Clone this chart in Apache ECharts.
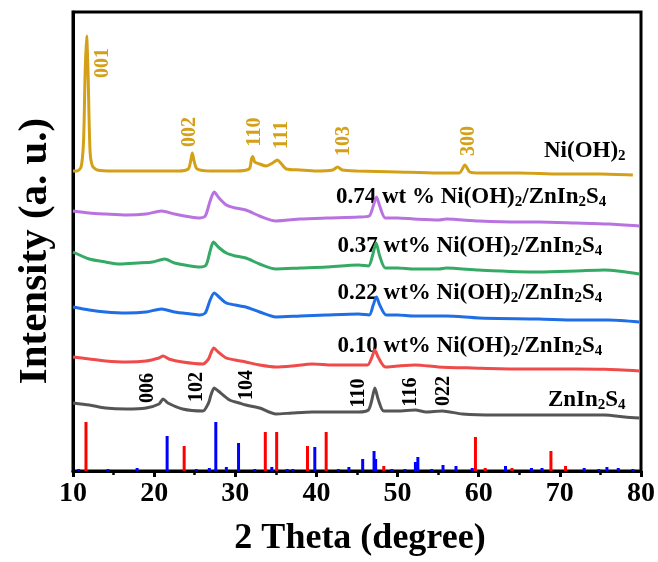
<!DOCTYPE html>
<html>
<head>
<meta charset="utf-8">
<script src="https://cdn.jsdelivr.net/npm/echarts@6/dist/echarts.min.js"></script>
<style>html,body{margin:0;padding:0;background:#fff}#c{width:658px;height:562px}</style>
</head>
<body>
<div id="c"></div>
<script>
// ---- data (2θ in degree, intensity in a.u. with stacking offsets) ----
var xTicks = [10, 20, 30, 40, 50, 60, 70, 80];

var niOH2 = [[10,300],[10.5,300],[11.0,304],[11.3,330],[11.5,400],[11.68,435],[11.85,400],[12.1,320],[12.4,305],[13,301],[15,300],[20,300],[23,300],[24.2,302],[24.5,310],[24.7,318],[24.95,309],[25.3,302],[27,300],[30,300],[31.7,302],[32.0,312],[32.15,314.5],[32.4,309],[33.0,307],[33.8,305],[34.6,308],[35.2,311],[35.6,308],[36.3,302],[38,301],[40,300],[42.0,301],[42.6,304],[43.2,301],[45,300],[50,299],[55,298],[57.6,298],[58.3,306],[58.9,299],[60,298],[65,298],[70,297],[75,297],[79,296]];

var wt074 = [[10,260],[12,258],[14,257],[16.6,256],[19,257],[20.9,260],[22.5,257],[24.5,254],[25.6,253],[26.3,255],[26.9,270],[27.4,279],[28.0,273],[28.9,266],[30,263],[31.3,261],[33,255],[35.0,250],[38,252],[41.2,253],[45.2,254],[46.5,255],[47.0,265],[47.4,274],[47.8,265],[48.5,253],[50,253],[52,252],[55.1,251],[56,252],[60,250],[65,249],[67.4,249],[72,248],[76,247],[79.8,245]];

var wt037 = [[10,219],[12,212],[14,209],[15.8,207],[18,208],[19.8,209],[21.3,212],[22.5,208],[24.5,205],[25.6,204],[26.4,206],[26.9,220],[27.3,229],[27.9,224],[28.9,218],[30,215],[31.3,213],[33,207],[35.0,202],[38,203],[41.2,204],[45.2,206],[46.4,205],[46.9,215],[47.35,228],[47.8,215],[48.5,203],[50,203],[52,202],[55.1,202],[56,203],[60,201],[67.4,199],[72,200],[75.5,201],[79.8,197]];

var wt022 = [[10,164],[12,161],[14,159],[16.6,158],[19,159],[20.9,162],[22.5,159],[24.5,157],[25.6,156],[26.3,158],[26.9,171],[27.4,178],[28.0,174],[28.9,168],[30,166],[31.3,164],[33,159],[35.0,154],[38,155],[41.2,156],[45.2,157],[46.5,156],[47.0,166],[47.4,174],[47.8,166],[48.6,156],[50,156],[52,155],[54.9,155],[56,155],[60,153],[67.4,152],[72,151],[76,151],[79.8,149]];

var wt010 = [[10,114],[12,112],[14,110],[16.6,109],[19,110],[20.6,113],[21.1,115],[21.8,112],[23.5,109],[26.0,107],[26.7,112],[27.0,118],[27.35,123],[27.9,119],[28.9,113],[30,111],[31.3,109],[33,106],[35.0,104],[37,105],[39.5,107],[42,106],[45.2,106],[46.3,106],[46.8,113],[47.2,121],[47.6,114],[48.5,104],[50,105],[52.2,106],[55,104],[59.2,103],[65,102],[67.4,102],[72,102],[75.5,101.7],[79.8,100]];

var znIn2S4 = [[10,68],[12,66],[14,63],[16.6,62],[19,63],[20.6,67],[21.1,72],[21.7,68],[23.5,62],[26.0,60],[26.7,68],[27.0,76],[27.4,83],[27.9,80],[29.3,71],[30.5,68],[31.3,66],[33,63],[35.0,57],[37,58],[39.5,59],[42,59],[45.2,59],[46.4,61],[46.8,70],[47.2,83],[47.6,72],[48.3,60],[50,60],[52.2,61],[53.5,59],[55.5,60],[58,57],[62,56],[67,56],[72,56],[75.5,56],[78,54],[79.8,53]];

var refRed = [[11.6,49],[23.7,25],[33.7,39],[35.1,39],[38.9,25],[41.2,39],[48.3,5],[59.6,34],[60.8,3],[64.1,3],[68.9,20],[70.7,5]];
var refBlue = [[10.7,2],[14.3,2],[17.9,3],[21.6,35],[25.2,2],[26.8,3],[27.6,49],[28.9,4],[30.4,28],[32.4,2],[34.5,4],[36.4,2],[37.1,2],[39.8,24],[42.7,2],[44.0,4],[45.7,12],[47.1,20],[47.3,12],[49.3,2],[50.9,2],[52.2,9],[52.5,14],[54.2,2],[55.6,6],[57.2,5],[59.2,3],[63.3,5],[66.5,3],[67.8,3],[73.0,3],[74.8,2],[75.8,4],[77.2,3],[79.0,2]];

var niPeakLabels = ['001', '002', '110', '111', '103', '300'];
var znPeakLabels = ['006', '102', '104', '110', '116', '022'];
var seriesNames = ['Ni(OH)2', '0.74 wt % Ni(OH)2/ZnIn2S4', '0.37 wt% Ni(OH)2/ZnIn2S4', '0.22 wt% Ni(OH)2/ZnIn2S4', '0.10 wt% Ni(OH)2/ZnIn2S4', 'ZnIn2S4'];

// ---- annotation anchors (data coords) ----
var niPeakPos = [[13.7,408],[24.4,339],[32.35,339],[35.7,336],[43.4,330],[58.75,330]];
var znPeakPos = [[19.2,83],[25.2,84],[31.4,86],[45.2,78],[51.6,79],[55.7,80]];
var nameAnchors = [[78.1,320,'right'],[42.4,274,'left'],[42.6,225,'left'],[42.6,178,'left'],[42.6,125,'left'],[78.1,71,'right']];

var FONT = '"Liberation Serif", "Times New Roman", serif';
var chart = echarts.init(document.getElementById('c'), null, {renderer: 'canvas'});

function lineS(name, data, color) {
  return {name: name, type: 'line', data: data, showSymbol: false, smooth: 0.25,
    lineStyle: {color: color, width: 3}, itemStyle: {color: color}, z: 3, silent: true};
}

chart.setOption({
  animation: false,
  backgroundColor: '#fff',
  grid: {left: 73, right: 15, top: 12, bottom: 91, show: true, borderColor: '#000', borderWidth: 3, backgroundColor: 'transparent'},
  xAxis: {
    type: 'value', min: 10, max: 80, interval: 10,
    axisLine: {show: true, lineStyle: {color: '#000', width: 3}},
    axisTick: {show: true, inside: false, length: 6, lineStyle: {color: '#000', width: 3}},
    minorTick: {show: true, splitNumber: 2, length: 4, lineStyle: {color: '#000', width: 2.5}},
    splitLine: {show: false},
    axisLabel: {fontFamily: FONT, fontWeight: 'bold', fontSize: 28, color: '#000', margin: 9,
      formatter: function (v) { return xTicks.indexOf(v) >= 0 ? String(v) : ''; }}
  },
  yAxis: {
    type: 'value', min: 0, max: 459,
    axisLine: {show: true, lineStyle: {color: '#000', width: 3}},
    axisTick: {show: false}, axisLabel: {show: false}, splitLine: {show: false}
  },
  series: [
    {name: 'ref-red', type: 'bar', data: refRed, barWidth: 3, barGap: '-100%', itemStyle: {color: '#FF0000'}, z: 2, silent: true},
    {name: 'ref-blue', type: 'bar', data: refBlue, barWidth: 3, barGap: '-100%', itemStyle: {color: '#0000FF'}, z: 2, silent: true},
    lineS(seriesNames[0], niOH2, '#D4A017'),
    lineS(seriesNames[1], wt074, '#B873E0'),
    lineS(seriesNames[2], wt037, '#35AA65'),
    lineS(seriesNames[3], wt022, '#1F6EE6'),
    lineS(seriesNames[4], wt010, '#F04B4B'),
    lineS(seriesNames[5], znIn2S4, '#555555')
  ]
});

function px(p) { return chart.convertToPixel({gridIndex: 0}, p); }

var rich = {
  a: {fontFamily: FONT, fontWeight: 'bold', fontSize: 23, color: '#000', lineHeight: 30},
  s: {fontFamily: FONT, fontWeight: 'bold', fontSize: 15, color: '#000', lineHeight: 30, padding: [11, 0, 0, 0]}
};
function fmtName(n) {
  return n.replace(/\)2/g, ')\u00012').replace(/In2/g, 'In\u00012').replace(/S4/g, 'S\u00014')
    .split(/(\u0001\d)/).filter(function (t) { return t.length; })
    .map(function (t) { return t.charAt(0) === '\u0001' ? '{s|' + t.charAt(1) + '}' : '{a|' + t + '}'; }).join('');
}

var graphics = [];
niPeakLabels.forEach(function (t, i) {
  var p = px(niPeakPos[i]);
  graphics.push({type: 'text', x: p[0], y: p[1], rotation: Math.PI / 2,
    style: {text: t, fontFamily: FONT, fontWeight: 'bold', fontSize: 20, fill: '#D4A017', align: 'center', verticalAlign: 'middle'}});
});
znPeakLabels.forEach(function (t, i) {
  var p = px(znPeakPos[i]);
  graphics.push({type: 'text', x: p[0], y: p[1], rotation: Math.PI / 2,
    style: {text: t, fontFamily: FONT, fontWeight: 'bold', fontSize: 20, fill: '#000', align: 'center', verticalAlign: 'middle'}});
});

seriesNames.forEach(function (n, i) {
  var a = nameAnchors[i];
  var p = px([a[0], a[1]]);
  graphics.push({type: 'text', x: p[0], y: p[1],
    style: {text: fmtName(n), rich: rich, align: a[2], verticalAlign: 'middle'}});
});

graphics.push({type: 'text', x: 35, y: 251, rotation: Math.PI / 2,
  style: {text: 'Intensity (a. u.)', fontFamily: FONT, fontWeight: 'bold', fontSize: 41, fill: '#000', align: 'center', verticalAlign: 'middle'}});
graphics.push({type: 'text', x: 360, y: 539,
  style: {text: '2 Theta (degree)', fontFamily: FONT, fontWeight: 'bold', fontSize: 36, fill: '#000', align: 'center', verticalAlign: 'middle'}});

chart.setOption({graphic: graphics});
</script>
</body>
</html>
